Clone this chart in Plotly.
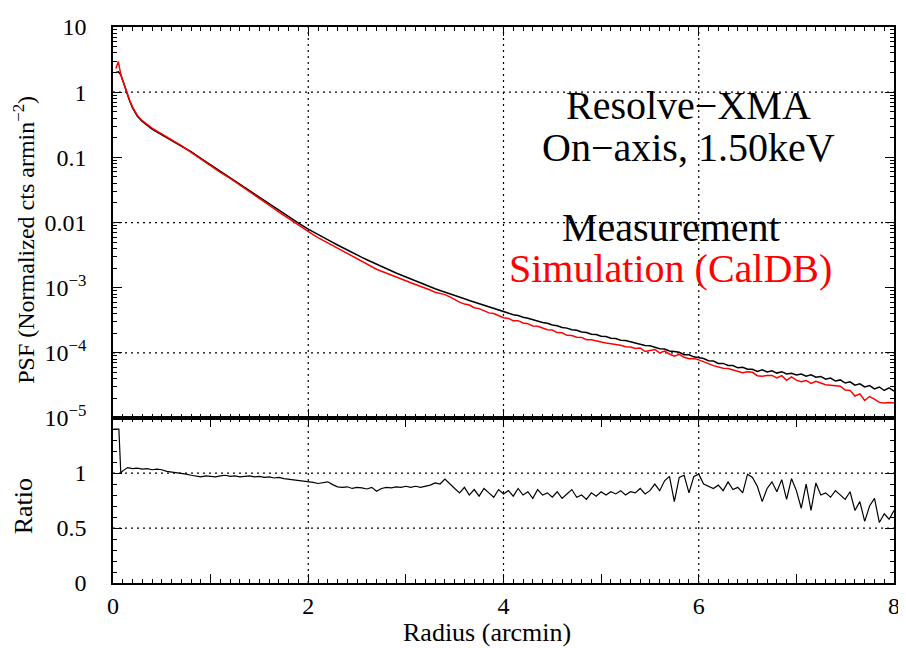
import numpy as np
import plotly.graph_objects as go

# ---------------- data ----------------
radius_psf = [0.03, 0.055, 0.08, 0.11, 0.14, 0.17, 0.20, 0.25, 0.30, 0.40, 0.50, 0.60, 0.70,
              0.80, 0.90, 1.00, 1.10, 1.20, 1.30, 1.40, 1.50, 1.60, 1.70, 1.80, 1.90, 2.00] + \
             list(np.round(np.arange(2.05, 8.0001, 0.05), 2))

psf_measurement = [
    2.0, 2.05, 1.85, 1.3, 1.0, 0.74, 0.575, 0.427, 0.355, 0.272, 0.224, 0.184, 0.151,
    0.122, 0.0966, 0.0767, 0.0610, 0.0490, 0.0389, 0.0309, 0.0245, 0.0193, 0.0151, 0.0120, 0.00977, 0.00794,
    7.19e-3, 6.53e-3, 5.96e-3, 5.43e-3, 4.95e-3, 4.52e-3, 4.12e-3, 3.76e-3, 3.45e-3, 3.16e-3,
    2.92e-3, 2.69e-3, 2.48e-3, 2.29e-3, 2.11e-3, 1.95e-3, 1.81e-3, 1.68e-3, 1.57e-3, 1.46e-3,
    1.37e-3, 1.27e-3, 1.19e-3, 1.11e-3, 1.04e-3, 9.66e-4, 9.07e-4, 8.51e-4, 8.04e-4, 7.59e-4,
    7.16e-4, 6.76e-4, 6.38e-4, 6.03e-4, 5.69e-4, 5.37e-4, 5.07e-4, 4.79e-4, 4.52e-4, 4.27e-4,
    4.10e-4, 3.86e-4, 3.75e-4, 3.52e-4, 3.41e-4, 3.22e-4, 3.12e-4, 2.93e-4, 2.85e-4, 2.68e-4,
    2.61e-4, 2.46e-4, 2.40e-4, 2.27e-4, 2.22e-4, 2.09e-4, 2.06e-4, 1.94e-4, 1.91e-4, 1.80e-4,
    1.78e-4, 1.68e-4, 1.66e-4, 1.56e-4, 1.55e-4, 1.48e-4, 1.43e-4, 1.38e-4, 1.30e-4, 1.29e-4,
    1.23e-4, 1.16e-4, 1.15e-4, 1.07e-4, 1.05e-4, 1.02e-4, 9.4e-5, 9.35e-5, 8.7e-5, 8.5e-5,
    8.2e-5, 7.6e-5, 7.5e-5, 6.9e-5, 6.9e-5, 6.4e-5, 6.4e-5, 5.9e-5, 6.0e-5, 5.6e-5,
    5.6e-5, 5.2e-5, 5.5e-5, 5.1e-5, 5.3e-5, 4.9e-5, 5.15e-5, 4.75e-5, 4.85e-5, 4.6e-5,
    4.75e-5, 4.4e-5, 4.6e-5, 4.25e-5, 4.35e-5, 3.95e-5, 4.1e-5, 3.7e-5, 3.85e-5, 3.45e-5,
    3.6e-5, 3.2e-5, 3.35e-5, 3.0e-5, 3.15e-5, 2.8e-5, 3.0e-5, 2.65e-5, 2.9e-5, 2.6e-5,
]

psf_simulation = [
    2.3, 2.95, 1.85, 1.32, 1.02, 0.76, 0.59, 0.44, 0.365, 0.28, 0.23, 0.186, 0.151,
    0.119, 0.0935, 0.0742, 0.059, 0.0474, 0.0377, 0.0298, 0.0236, 0.0185, 0.0144, 0.0114, 0.0091, 0.0073,
    6.54e-3, 5.88e-3, 5.36e-3, 4.86e-3, 4.41e-3, 4.00e-3, 3.63e-3, 3.29e-3, 3.00e-3, 2.73e-3,
    2.51e-3, 2.29e-3, 2.13e-3, 1.92e-3, 1.79e-3, 1.68e-3, 1.57e-3, 1.44e-3, 1.36e-3, 1.28e-3,
    1.19e-3, 1.12e-3, 1.03e-3, 9.76e-4, 9.21e-4, 8.50e-4, 8.16e-4, 7.83e-4, 7.24e-4, 6.53e-4,
    6.01e-4, 5.61e-4, 5.42e-4, 4.94e-4, 4.78e-4, 4.46e-4, 4.11e-4, 4.02e-4, 3.71e-4, 3.46e-4,
    3.38e-4, 3.11e-4, 3.12e-4, 2.88e-4, 2.81e-4, 2.59e-4, 2.56e-4, 2.39e-4, 2.26e-4, 2.24e-4,
    2.05e-4, 2.03e-4, 1.86e-4, 1.85e-4, 1.74e-4, 1.73e-4, 1.59e-4, 1.59e-4, 1.51e-4, 1.47e-4,
    1.42e-4, 1.39e-4, 1.34e-4, 1.31e-4, 1.24e-4, 1.23e-4, 1.17e-4, 1.19e-4, 1.05e-4, 1.08e-4,
    1.13e-4, 9.98e-5, 1.07e-4, 9.63e-5, 8.93e-5, 9.49e-5, 8.55e-5, 8.13e-5, 8.18e-5, 7.82e-5,
    7.22e-5, 6.84e-5, 6.38e-5, 6.14e-5, 5.80e-5, 5.76e-5, 5.50e-5, 5.19e-5, 4.98e-5, 5.15e-5,
    5.04e-5, 4.47e-5, 4.40e-5, 4.49e-5, 4.51e-5, 4.12e-5, 4.48e-5, 3.80e-5, 4.27e-5, 3.82e-5,
    3.61e-5, 3.78e-5, 3.40e-5, 3.66e-5, 3.48e-5, 3.24e-5, 3.20e-5, 3.11e-5, 3.08e-5, 2.69e-5,
    2.66e-5, 2.18e-5, 2.35e-5, 1.86e-5, 2.14e-5, 1.96e-5, 1.74e-5, 1.70e-5, 1.74e-5, 1.72e-5,
]

radius_ratio = [0.005, 0.06, 0.08] + list(np.round(np.arange(0.10, 8.0001, 0.05), 2))

ratio = [
    1.40, 1.40, 1.00,
    1.02, 1.05, 1.04, 1.045, 1.035, 1.04, 1.03, 1.035, 1.03, 1.015,
    1.01, 1.0, 0.995, 0.99, 0.98, 0.97, 0.965, 0.975, 0.97, 0.965,
    0.975, 0.98, 0.97, 0.975, 0.965, 0.97, 0.975, 0.965, 0.97, 0.96,
    0.965, 0.955, 0.96, 0.95, 0.945, 0.94, 0.93, 0.925, 0.92, 0.915,
    0.905, 0.91, 0.92, 0.895, 0.875, 0.87, 0.875, 0.86, 0.87, 0.865,
    0.855, 0.87, 0.835, 0.86, 0.87, 0.865, 0.875, 0.87, 0.88, 0.87,
    0.88, 0.87, 0.88, 0.89, 0.91, 0.90, 0.945, 0.90, 0.86, 0.82,
    0.87, 0.80, 0.85, 0.79, 0.86, 0.82, 0.78, 0.85, 0.81, 0.84,
    0.79, 0.86, 0.80, 0.83, 0.77, 0.85, 0.80, 0.82, 0.78, 0.83,
    0.77, 0.81, 0.85, 0.78, 0.80, 0.76, 0.82, 0.79, 0.83, 0.80,
    0.83, 0.81, 0.84, 0.80, 0.83, 0.82, 0.86, 0.81, 0.84, 0.90,
    0.84, 0.93, 0.97, 0.74, 0.96, 0.98, 0.82, 0.97, 0.99, 0.90,
    0.88, 0.86, 0.89, 0.84, 0.92, 0.85, 0.87, 0.82, 0.99, 0.96,
    0.88, 0.74, 0.86, 0.92, 0.83, 0.94, 0.76, 0.95, 0.84, 0.68,
    0.90, 0.66, 0.91, 0.80, 0.82, 0.78, 0.84, 0.80, 0.76, 0.83,
    0.66, 0.74, 0.56, 0.70, 0.77, 0.55, 0.63, 0.58, 0.66,
]

x_tick_values = [0, 1, 2, 3, 4, 5, 6, 7, 8]
x_tick_labels = ["0", "", "2", "", "4", "", "6", "", "8"]
psf_tick_values = [10, 1, 0.1, 0.01, 1e-3, 1e-4, 1e-5]
psf_tick_labels = ["10", "1", "0.1", "0.01", "10<sup>−3</sup>", "10<sup>−4</sup>", "10<sup>−5</sup>"]
ratio_tick_values = [0, 0.5, 1, 1.5]
ratio_tick_labels = ["0", "0.5", "1", ""]
x_grid = [2, 4, 6]
psf_grid = [1, 0.01, 1e-4]
ratio_grid = [0.5, 1]

# ---------------- figure ----------------
FONT = "'Liberation Serif', 'Times New Roman', Times, serif"
split = 167 / 563

fig = go.Figure()
fig.add_trace(go.Scatter(x=radius_psf, y=psf_measurement, xaxis="x2", yaxis="y2", mode="lines",
                         line=dict(color="black", width=1.5), name="Measurement"))
fig.add_trace(go.Scatter(x=radius_psf, y=psf_simulation, xaxis="x2", yaxis="y2", mode="lines",
                         line=dict(color="red", width=1.5), name="Simulation (CalDB)"))
fig.add_trace(go.Scatter(x=radius_ratio, y=ratio, xaxis="x", yaxis="y", mode="lines",
                         line=dict(color="black", width=1.2), name="Ratio"))

minor_log = [k * 10.0 ** e for e in range(-5, 1) for k in range(2, 10)]

common_x = dict(range=[0, 8], tickmode="array", tickvals=x_tick_values, ticktext=x_tick_labels,
                ticks="inside", ticklen=9, tickwidth=1.2, tickcolor="black",
                minor=dict(tickmode="linear", tick0=0, dtick=0.1, ticks="inside", ticklen=4.5,
                           tickwidth=1, tickcolor="black", showgrid=False),
                showline=True, linecolor="black", linewidth=1.6, mirror="ticks",
                showgrid=False, zeroline=False, ticklabeloverflow="allow",
                tickfont=dict(family=FONT, size=24, color="black"))

# the page adds an 8 px body margin, so the figure is 8 px smaller and its margins shifted
fig.update_layout(
    width=898, height=640,
    margin=dict(l=105, r=6, t=12, b=65),
    paper_bgcolor="white", plot_bgcolor="white",
    showlegend=False,
    font=dict(family=FONT, size=24, color="black"),
    xaxis=dict(anchor="y", domain=[0, 1], ticklabelstandoff=0, **common_x),
    xaxis2=dict(anchor="y2", domain=[0, 1], matches="x", showticklabels=False, **common_x),
    yaxis=dict(anchor="x", domain=[0, split], range=[0, 1.5], tickmode="array",
               tickvals=ratio_tick_values, ticktext=ratio_tick_labels,
               ticks="inside", ticklen=9, tickwidth=1.2, tickcolor="black",
               minor=dict(tickmode="linear", tick0=0, dtick=0.1, ticks="inside", ticklen=4.5,
                          tickwidth=1, tickcolor="black", showgrid=False),
               showline=True, linecolor="black", linewidth=1.6, mirror="ticks",
               showgrid=False, zeroline=False, ticklabelstandoff=20, ticklabeloverflow="allow",
               tickfont=dict(family=FONT, size=24, color="black")),
    yaxis2=dict(anchor="x2", domain=[split, 1], type="log", range=[-5, 1], tickmode="array",
                tickvals=psf_tick_values, ticktext=psf_tick_labels,
                ticks="inside", ticklen=9, tickwidth=1.2, tickcolor="black",
                minor=dict(tickmode="array", tickvals=minor_log, ticks="inside", ticklen=4.5,
                           tickwidth=1, tickcolor="black", showgrid=False),
                showline=True, linecolor="black", linewidth=1.6, mirror="ticks",
                showgrid=False, zeroline=False, ticklabelstandoff=20, ticklabeloverflow="allow",
                tickfont=dict(family=FONT, size=24, color="black")),
)

dot = dict(color="black", width=1.2, dash="2px,4px")
shapes = []
for v in x_grid:
    shapes.append(dict(type="line", xref="x", yref="y domain", x0=v, x1=v, y0=0, y1=1, line=dot, layer="below"))
    shapes.append(dict(type="line", xref="x2", yref="y2 domain", x0=v, x1=v, y0=0, y1=1, line=dot, layer="below"))
for v in psf_grid:
    shapes.append(dict(type="line", xref="x2 domain", yref="y2", x0=0, x1=1, y0=v, y1=v, line=dot, layer="below"))
for v in ratio_grid:
    shapes.append(dict(type="line", xref="x domain", yref="y", x0=0, x1=1, y0=v, y1=v, line=dot, layer="below"))
fig.update_layout(shapes=shapes)

ann_font = dict(family=FONT, size=40, color="black")
annotations = [
    dict(text="Resolve−XMA", x=0.737, y=0.859, font=ann_font),
    dict(text="On−axis, 1.50keV", x=0.737, y=0.784, font=ann_font),
    dict(text="Measurement", x=0.714, y=0.640, font=ann_font),
    dict(text="Simulation (CalDB)", x=0.714, y=0.565, font=dict(family=FONT, size=40, color="red")),
    dict(text="Radius (arcmin)", x=0.479, y=-0.0888, font=dict(family=FONT, size=26, color="black")),
    dict(text="PSF (Normalized cts armin<sup>−2</sup>)", x=-0.1135, y=0.618, textangle=-90,
         font=dict(family=FONT, size=24, color="black")),
    dict(text="Ratio", x=-0.1135, y=0.1385, textangle=-90, font=dict(family=FONT, size=26, color="black")),
]
for a in annotations:
    a.update(xref="paper", yref="paper", showarrow=False, xanchor="center", yanchor="middle")
fig.update_layout(annotations=annotations)

fig.write_html("out.html")
